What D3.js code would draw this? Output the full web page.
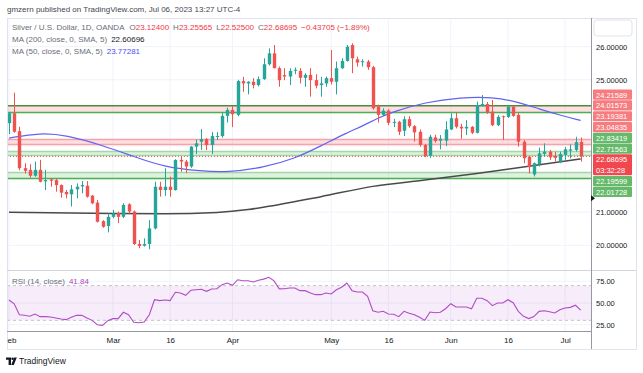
<!DOCTYPE html>
<html>
<head>
<meta charset="utf-8">
<script src="https://cdn.jsdelivr.net/npm/d3@7"></script>
<style>
  body { margin: 0; background: #fff; }
  svg text { font-family: "Liberation Sans", Arial, sans-serif; }
</style>
</head>
<body>
<script>
// ---- data ----
var opens = [23.69,23.99,23.45,22.33,22.28,22.10,22.28,21.93,21.99,21.97,21.82,21.61,21.54,21.69,21.78,21.80,21.50,21.29,20.73,20.58,
  20.86,20.97,20.86,21.24,21.02,20.04,19.99,20.04,20.51,21.77,21.67,21.77,21.67,22.58,22.53,22.38,22.98,23.13,23.21,23.03,
  23.28,23.30,23.91,24.09,23.94,24.96,24.89,24.94,24.84,25.02,25.47,25.80,25.35,25.14,25.10,25.27,25.27,25.06,25.15,24.99,
  24.84,24.89,25.05,24.94,25.35,25.57,26.05,25.62,25.53,25.55,25.38,24.19,23.94,24.07,23.70,23.73,23.46,23.81,23.60,23.43,
  23.03,22.70,23.26,23.16,23.16,23.50,23.84,23.58,23.53,23.58,23.40,24.21,24.27,24.04,23.63,23.90,23.88,24.19,23.94,23.13,
  22.68,22.14,22.45,22.76,22.83,22.70,22.53,22.73,22.86,22.88,23.124];
var highs = [24.02,24.61,23.58,22.48,22.45,22.53,22.58,22.28,22.02,22.02,21.84,21.67,21.82,21.87,21.94,21.94,21.52,21.37,20.76,20.97,
  21.07,21.02,21.27,21.27,21.05,20.16,20.21,20.76,21.92,21.92,22.33,22.07,22.60,22.68,22.58,23.00,23.20,23.51,23.24,23.42,
  23.42,24.00,24.16,24.21,25.00,25.09,24.96,25.05,25.10,25.65,25.95,26.05,25.40,25.35,25.35,25.37,25.35,25.20,25.35,25.17,
  25.09,25.10,25.90,25.55,25.65,26.05,26.10,25.70,25.62,25.60,25.42,24.25,24.14,24.11,23.82,23.76,23.90,23.90,23.63,23.50,
  23.06,23.34,23.34,23.33,23.75,23.99,24.00,23.67,23.78,23.60,24.34,24.54,24.33,24.39,23.93,23.92,24.24,24.22,24.00,23.18,
  22.70,22.50,22.95,23.08,22.88,22.83,22.83,22.97,23.05,23.28,23.25565];
var lows = [23.36,23.40,22.27,22.17,22.04,22.07,21.90,21.67,21.77,21.62,21.44,21.42,21.17,21.42,21.57,21.44,21.24,20.69,20.53,20.39,
  20.82,20.67,20.82,20.96,20.01,19.91,19.96,19.88,20.48,21.47,21.49,21.47,21.65,22.22,22.18,22.34,22.76,22.88,22.88,22.76,
  23.18,23.25,23.71,23.57,23.90,24.64,24.56,24.74,24.80,25.00,25.43,25.35,24.79,24.99,24.84,25.17,24.89,24.79,24.49,24.74,
  24.49,24.79,24.86,24.56,25.33,25.55,25.20,25.40,25.40,25.30,24.10,23.71,23.90,23.63,23.57,23.33,23.30,23.55,23.13,22.98,
  22.66,22.64,23.10,22.90,23.00,23.48,23.53,23.22,23.33,23.36,23.38,24.19,23.97,23.60,23.60,23.18,23.85,23.88,22.98,22.48,
  22.17,22.08,22.38,22.68,22.58,22.53,22.48,22.58,22.63,22.83,22.525];
var closes = [23.99,23.43,22.33,22.25,22.10,22.28,21.92,21.97,21.95,21.82,21.59,21.54,21.69,21.77,21.82,21.47,21.27,20.71,20.56,20.86,
  20.96,20.86,21.22,21.02,20.04,19.98,20.04,20.51,21.77,21.67,21.77,21.67,22.58,22.53,22.38,22.98,23.08,23.21,23.03,23.30,
  23.30,23.91,24.09,23.96,24.96,24.89,24.94,24.84,25.02,25.47,25.80,25.35,24.99,25.10,25.27,25.30,25.06,25.15,24.99,24.82,
  24.89,25.05,24.94,25.35,25.57,26.00,25.65,25.52,25.56,25.38,24.14,23.94,24.07,23.70,23.73,23.43,23.81,23.60,23.41,23.03,
  22.70,23.28,23.15,23.22,23.50,23.84,23.58,23.53,23.58,23.40,24.24,24.27,24.01,23.63,23.88,23.88,24.19,23.91,23.13,22.63,
  22.36,22.48,22.78,22.83,22.66,22.64,22.76,22.90,22.90,23.12,22.68695];

var rsiValues = [53.5,49,36.5,35.8,34.7,37.3,34.3,34.3,33.9,32.7,31.6,30.8,33.5,35.8,35.8,32.7,30,25,24.3,29.6,
  32,32,39.3,36.5,27.8,27.3,28.1,36.5,53.8,52.7,53.5,52.7,62.3,61.5,58.9,64.6,65.3,65.8,63.5,66.1,
  66.5,71.1,73,70.4,76.8,75.7,75.7,74.2,76.2,77.5,79.6,75.5,66.3,66.5,67.3,67.3,64.2,64.2,61.5,59.6,
  59.6,61.5,60.4,65.3,68.1,73,64.2,62.7,62.7,57.7,41.1,39.3,40.4,37.3,37,34.3,40.4,38.1,36.5,33.5,
  30,39.6,38.8,39.3,43.4,49.2,45.4,45.4,45.4,43.4,55.4,55.4,52.7,46.9,50,50,53.8,50.3,40.4,34.7,
  32,34.3,40.4,41.1,40,38.5,42.3,44.2,45,47.4,41.84];

// moving averages, sampled at bar indices
var ma50Idx = [0,6,11,18,24,30,37,42,49,55,60,65,68,71,74,80,87,93,98,102,106,110];
var ma50Val = [23.24,23.40,23.33,23.02,22.68,22.36,22.24,22.20,22.35,22.62,23.00,23.40,23.60,23.85,24.04,24.32,24.47,24.48,24.33,24.12,23.93,23.77281];
var ma200Idx = [0,20,30,40,46,50,60,70,80,90,100,110];
var ma200Val = [21.00,20.96,20.95,20.99,21.08,21.18,21.47,21.78,21.97,22.17,22.39,22.60696];

// time axis
var tickIdx = [0,20,31,43,62,73,85,96,107];
var tickLabels = ["Feb","Mar","16","Apr","May","16","Jun","16","Jul"];

// price axis and levels
var priceTicks = [20,21,22,23,24,25,26];
var rsiTicks = [25,50,75];
var zoneTops = [24.21589,23.19381,22.83419,22.19599];
var zoneBottoms = [24.01573,23.04835,22.71563,22.01728];
var lastPrice = 22.68695;
var countdown = "03:32:28";
var markerPrice = 21.42;

// ---- layout ----
var W = 643, H = 373;
var left = 7, axisX = 591, right = 636;
var mainTop = 18, mainBottom = 270, rsiBottom = 331, frameBottom = 349;

var red = "#ef5350", green = "#26a69a";

var x = d3.scaleLinear().domain([0, opens.length - 1]).range([9, 580.7]);
var y = d3.scaleLinear().domain([20, 26]).range([245.3, 46.7]);
var yr = d3.scaleLinear().domain([25, 75]).range([324.7, 281.3]);

var svg = d3.select("body").append("svg").attr("width", W).attr("height", H);

var defs = svg.append("defs");
defs.append("clipPath").attr("id", "clipMain").append("rect")
  .attr("x", left).attr("y", mainTop).attr("width", axisX - left).attr("height", mainBottom - mainTop);
defs.append("clipPath").attr("id", "clipRsi").append("rect")
  .attr("x", left).attr("y", mainBottom).attr("width", axisX - left).attr("height", rsiBottom - mainBottom);
defs.append("clipPath").attr("id", "clipTime").append("rect")
  .attr("x", left).attr("y", rsiBottom).attr("width", axisX - left).attr("height", frameBottom - rsiBottom);

// header
svg.append("text").attr("x", 7).attr("y", 12).attr("font-size", 8).attr("fill", "#434651")
  .text("gmzern published on TradingView.com, Jul 06, 2023 13:27 UTC-4");

// grid
var grid = svg.append("g");
grid.selectAll(".vg").data(tickIdx).enter().append("line")
  .attr("x1", function (d) { return x(d); }).attr("x2", function (d) { return x(d); })
  .attr("y1", mainTop).attr("y2", rsiBottom)
  .attr("stroke", "#f0f3fa").attr("stroke-width", 1);
grid.selectAll(".hg").data(priceTicks).enter().append("line")
  .attr("x1", left).attr("x2", axisX)
  .attr("y1", function (d) { return y(d); }).attr("y2", function (d) { return y(d); })
  .attr("stroke", "#f0f3fa").attr("stroke-width", 1);
grid.selectAll(".rg").data(rsiTicks).enter().append("line")
  .attr("x1", left).attr("x2", axisX)
  .attr("y1", function (d) { return yr(d); }).attr("y2", function (d) { return yr(d); })
  .attr("stroke", "#f0f3fa").attr("stroke-width", 1);

// ---- main pane ----
var main = svg.append("g").attr("clip-path", "url(#clipMain)");

var zoneFill = ["rgba(242,54,69,0.16)", "rgba(242,54,69,0.16)", "rgba(76,175,80,0.18)", "rgba(76,175,80,0.18)"];
var zoneTopLine = ["#4f8a3a", "#f5a3a6", "#a5d6a7", "#a5d6a7"];
var zoneBotLine = ["#4caf50", "#f5a3a6", "#a5d6a7", "#4caf50"];

zoneTops.forEach(function (t, i) {
  var b = zoneBottoms[i];
  main.append("rect").attr("x", left).attr("width", axisX - left)
    .attr("y", y(t)).attr("height", y(b) - y(t)).attr("fill", zoneFill[i]);
  main.append("line").attr("x1", left).attr("x2", axisX).attr("y1", y(t)).attr("y2", y(t))
    .attr("stroke", zoneTopLine[i]).attr("stroke-width", 1.5);
  main.append("line").attr("x1", left).attr("x2", axisX).attr("y1", y(b)).attr("y2", y(b))
    .attr("stroke", zoneBotLine[i]).attr("stroke-width", 1.5);
});

// moving averages
var maLine = d3.line().x(function (d) { return x(d[0]); }).y(function (d) { return y(d[1]); }).curve(d3.curveMonotoneX);
main.append("path").datum(d3.zip(ma200Idx, ma200Val)).attr("d", maLine)
  .attr("fill", "none").attr("stroke", "#4a4a4a").attr("stroke-width", 1.5);
main.append("path").datum(d3.zip(ma50Idx, ma50Val)).attr("d", maLine.curve(d3.curveBasis))
  .attr("fill", "none").attr("stroke", "#6262f2").attr("stroke-width", 1.2);

// last price dotted line
main.append("line").attr("x1", left).attr("x2", axisX).attr("y1", y(lastPrice)).attr("y2", y(lastPrice))
  .attr("stroke", red).attr("stroke-width", 1).attr("stroke-dasharray", "1,2");

// candles
var candles = d3.range(opens.length);
var bw = 3.4;
var cg = main.selectAll(".candle").data(candles).enter().append("g");
cg.append("line")
  .attr("x1", function (i) { return Math.round(x(i)) + 0.5; })
  .attr("x2", function (i) { return Math.round(x(i)) + 0.5; })
  .attr("y1", function (i) { return y(highs[i]); })
  .attr("y2", function (i) { return y(lows[i]); })
  .attr("stroke", function (i) { return closes[i] >= opens[i] ? green : red; })
  .attr("stroke-width", 1);
cg.append("rect")
  .attr("x", function (i) { return Math.round(x(i)) + 0.5 - bw / 2; })
  .attr("width", bw)
  .attr("y", function (i) { return y(Math.max(opens[i], closes[i])); })
  .attr("height", function (i) { return Math.max(1, Math.abs(y(opens[i]) - y(closes[i]))); })
  .attr("fill", function (i) { return closes[i] >= opens[i] ? green : red; });

// legend
var red2 = "#f23645";
var lg = svg.append("g").attr("font-size", 8);
var l1 = lg.append("text").attr("x", 12).attr("y", 29.5).attr("fill", "#6a6d78");
l1.append("tspan").text("Silver / U.S. Dollar, 1D, OANDA");
[["O", "23.12400"], ["H", "23.25565"], ["L", "22.52500"], ["C", "22.68695"]].forEach(function (p, i) {
  l1.append("tspan").attr("dx", i === 0 ? 5 : 4).text(p[0]);
  l1.append("tspan").attr("fill", red2).text(p[1]);
});
l1.append("tspan").attr("dx", 4).attr("fill", red2).text("\u22120.43705 (\u22121.89%)");
var l2 = lg.append("text").attr("x", 12).attr("y", 42).attr("fill", "#6a6d78");
l2.append("tspan").text("MA (200, close, 0, SMA, 5)");
l2.append("tspan").attr("dx", 4).attr("fill", "#131722").text("22.60696");
var l3 = lg.append("text").attr("x", 12).attr("y", 54).attr("fill", "#6a6d78");
l3.append("tspan").text("MA (50, close, 0, SMA, 5)");
l3.append("tspan").attr("dx", 4).attr("fill", "#4c4cf5").text("23.77281");

// ---- RSI pane ----
var rsi = svg.append("g").attr("clip-path", "url(#clipRsi)");
rsi.append("rect").attr("x", left).attr("width", axisX - left)
  .attr("y", yr(70)).attr("height", yr(30) - yr(70)).attr("fill", "rgba(156,39,200,0.09)");
[70, 30].forEach(function (v) {
  rsi.append("line").attr("x1", left).attr("x2", axisX).attr("y1", yr(v)).attr("y2", yr(v))
    .attr("stroke", "#c3c5cc").attr("stroke-width", 1).attr("stroke-dasharray", "3,3");
});
rsi.append("path").datum(rsiValues)
  .attr("d", d3.line().x(function (d, i) { return x(i); }).y(function (d) { return yr(d); }))
  .attr("fill", "none").attr("stroke", "#b04cc4").attr("stroke-width", 1.1);
var rl = svg.append("text").attr("x", 12).attr("y", 284).attr("font-size", 8).attr("fill", "#6a6d78");
rl.append("tspan").text("RSI (14, close)");
rl.append("tspan").attr("dx", 4).attr("fill", "#ab47bc").text("41.84");

// ---- frame and axes ----
var frame = svg.append("g");
frame.append("rect").attr("x", left + 0.5).attr("y", mainTop + 0.5)
  .attr("width", right - left).attr("height", frameBottom - mainTop)
  .attr("fill", "none").attr("stroke", "#e0e3eb");
frame.append("line").attr("x1", left).attr("x2", right).attr("y1", mainBottom + 0.5).attr("y2", mainBottom + 0.5)
  .attr("stroke", "#d1d4dc");
frame.append("line").attr("x1", left).attr("x2", axisX).attr("y1", rsiBottom + 0.5).attr("y2", rsiBottom + 0.5)
  .attr("stroke", "#9598a1");
frame.append("line").attr("x1", axisX + 0.5).attr("x2", axisX + 0.5).attr("y1", mainTop).attr("y2", frameBottom)
  .attr("stroke", "#9598a1");
frame.append("rect").attr("x", 594).attr("y", 20).attr("width", 38).attr("height", 16).attr("rx", 3)
  .attr("fill", "none").attr("stroke", "#e0e3eb");

// price labels stacked on the scale (computed first so hidden ticks can be skipped)
var rowH = 10.8;
var tags = [
  { v: zoneTops[0], c: "#f77c80" }, { v: zoneBottoms[0], c: "#f77c80" },
  { v: zoneTops[1], c: "#f77c80" }, { v: zoneBottoms[1], c: "#f77c80" },
  { v: zoneTops[2], c: "#66b96a" }, { v: zoneBottoms[2], c: "#66b96a" },
  { v: lastPrice, c: "#f0484e", sub: countdown },
  { v: zoneTops[3], c: "#66b96a" }, { v: zoneBottoms[3], c: "#66b96a" }
];
var stackTop = y(tags[0].v) - 1.5 * rowH;
var stackRows = d3.sum(tags, function (t) { return t.sub ? 2 : 1; });
var stackBottom = stackTop + stackRows * rowH;
var visibleTicks = priceTicks.filter(function (p) {
  return y(p) < stackTop - 4 || y(p) > stackBottom + 4;
});

var priceAxis = svg.append("g").attr("transform", "translate(" + axisX + ",0)")
  .call(d3.axisRight(y).tickValues(visibleTicks).tickFormat(d3.format(".5f")).tickSize(0).tickPadding(5));
priceAxis.select(".domain").remove();
priceAxis.selectAll("text").attr("font-size", 7.5).attr("fill", "#131722")
  .attr("font-family", "Liberation Sans, Arial, sans-serif");

var rsiAxis = svg.append("g").attr("transform", "translate(" + axisX + ",0)")
  .call(d3.axisRight(yr).tickValues(rsiTicks).tickFormat(d3.format(".2f")).tickSize(0).tickPadding(5));
rsiAxis.select(".domain").remove();
rsiAxis.selectAll("text").attr("font-size", 7.5).attr("fill", "#131722")
  .attr("font-family", "Liberation Sans, Arial, sans-serif");

var timeAxis = svg.append("g").attr("clip-path", "url(#clipTime)")
  .append("g").attr("transform", "translate(0," + rsiBottom + ")")
  .call(d3.axisBottom(x).tickValues(tickIdx).tickFormat(function (d, i) { return tickLabels[i]; }).tickSize(0).tickPadding(6));
timeAxis.select(".domain").remove();
timeAxis.selectAll("text").attr("font-size", 8).attr("fill", "#131722")
  .attr("font-family", "Liberation Sans, Arial, sans-serif");

// marker on the price scale
var my = y(markerPrice);
svg.append("path").attr("d", "M" + axisX + "," + (my - 3) + "L" + (axisX + 4) + "," + my + "L" + axisX + "," + (my + 3) + "Z")
  .attr("fill", "#131722");

var ty = stackTop;
var tg = svg.append("g");
tags.forEach(function (t) {
  var rows = t.sub ? 2 : 1;
  tg.append("rect").attr("x", 593).attr("y", ty).attr("width", 39).attr("height", rows * rowH - 0.6)
    .attr("fill", t.c).attr("rx", 1);
  tg.append("text").attr("x", 596).attr("y", ty + rowH / 2).attr("dy", "0.35em")
    .attr("font-size", 7.5).attr("fill", "#fff").text(d3.format(".5f")(t.v));
  if (t.sub) {
    tg.append("text").attr("x", 596).attr("y", ty + rowH * 1.5).attr("dy", "0.35em")
      .attr("font-size", 7.5).attr("fill", "#fff").text(t.sub);
  }
  ty += rows * rowH;
});

// footer logo
var logo = svg.append("g").attr("fill", "#131722");
logo.append("path").attr("d", "M6,357.5h5v7.5h-2.4v-5.2H6z");
logo.append("circle").attr("cx", 12.6).attr("cy", 358.8).attr("r", 1.3);
logo.append("path").attr("d", "M14.2,357.5h2.6l-3,7.5h-2.6z");
svg.append("text").attr("x", 19).attr("y", 364).attr("font-size", 8.5).attr("fill", "#131722").text("TradingView");
</script>
</body>
</html>
